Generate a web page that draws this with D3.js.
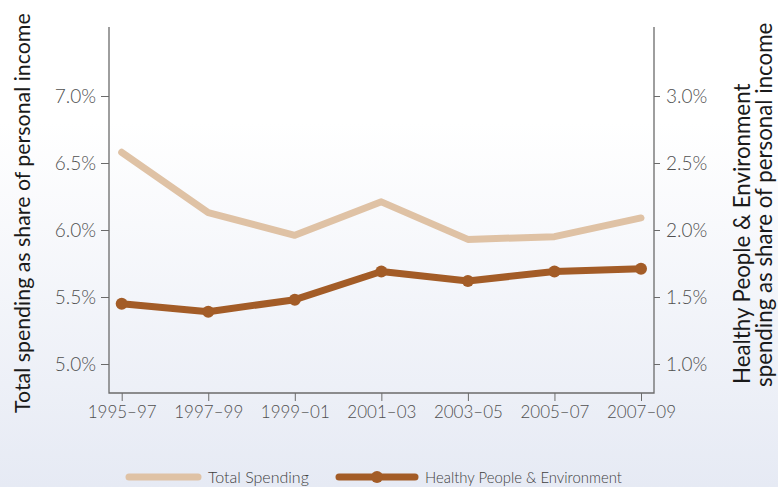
<!DOCTYPE html>
<html>
<head>
<meta charset="utf-8">
<script src="https://cdn.jsdelivr.net/npm/d3@7"></script>
<style>
  body { margin: 0; }
  text { font-family: Lato, "Open Sans", sans-serif; font-weight: 300; }
</style>
</head>
<body>
<div id="chart"></div>
<script>
// chart data
var periods = ["1995–97", "1997–99", "1999–01", "2001–03", "2003–05", "2005–07", "2007–09"];
var totalSpending = [6.58, 6.13, 5.96, 6.21, 5.93, 5.95, 6.09];
var healthyPeople = [1.45, 1.39, 1.48, 1.69, 1.62, 1.69, 1.71];
var leftTicks = [5.0, 5.5, 6.0, 6.5, 7.0];
var rightTicks = [1.0, 1.5, 2.0, 2.5, 3.0];
var seriesNames = ["Total Spending", "Healthy People & Environment"];

var svgWidth = 778;
var svgHeight = 487;

var plot = { left: 109, right: 654, top: 27, bottom: 393 };

var svg = d3.select("#chart")
  .append("svg")
  .attr("width", svgWidth)
  .attr("height", svgHeight);

// background gradient
var grad = svg.append("defs").append("linearGradient")
  .attr("id", "bg")
  .attr("x1", 0).attr("y1", 0).attr("x2", 0).attr("y2", 1);
grad.append("stop").attr("offset", "0%").attr("stop-color", "#ffffff");
grad.append("stop").attr("offset", "25%").attr("stop-color", "#ffffff");
grad.append("stop").attr("offset", "100%").attr("stop-color", "#e6eaf4");

svg.append("rect")
  .attr("width", svgWidth)
  .attr("height", svgHeight)
  .attr("fill", "url(#bg)");

// scales
var x = d3.scalePoint()
  .domain(periods)
  .range([121.7, 641])
  .padding(0);

var yLeft = d3.scaleLinear().domain([5.0, 7.0]).range([364, 96]);
var yRight = d3.scaleLinear().domain([1.0, 3.0]).range([364, 96]);

var fmt = d => d.toFixed(1) + "%";

// axes
var leftAxis = d3.axisLeft(yLeft).tickValues(leftTicks).tickFormat(fmt).tickSizeOuter(0).tickSize(8).tickPadding(5);
var rightAxis = d3.axisRight(yRight).tickValues(rightTicks).tickFormat(fmt).tickSizeOuter(0).tickSize(6).tickPadding(6);
var bottomAxis = d3.axisBottom(x).tickSizeOuter(0).tickSize(8).tickPadding(5);

function styleAxis(g, size) {
  g.select(".domain").remove();
  g.selectAll(".tick line").attr("stroke", "#6b6b6b").attr("stroke-width", 1);
  g.selectAll(".tick text")
    .attr("fill", "#505050")
    .style("font-size", size + "px")
    .style("font-family", "Lato, 'Open Sans', sans-serif")
    .style("font-weight", 300);
}

svg.append("g")
  .attr("transform", `translate(${plot.left},0)`)
  .call(leftAxis)
  .call(g => styleAxis(g, 19));

svg.append("g")
  .attr("transform", `translate(${plot.right},0)`)
  .call(rightAxis)
  .call(g => styleAxis(g, 19));

svg.append("g")
  .attr("transform", `translate(0,${plot.bottom})`)
  .call(bottomAxis)
  .call(g => styleAxis(g, 17));

// axis frame lines (left, bottom, right)
svg.append("path")
  .attr("d", `M${plot.left},${plot.top}V${plot.bottom}H${plot.right}V${plot.top}`)
  .attr("fill", "none")
  .attr("stroke", "#6b6b6b")
  .attr("stroke-width", 1.3);

// series lines
var lineLeft = d3.line()
  .x((d, i) => x(periods[i]))
  .y(d => yLeft(d));

var lineRight = d3.line()
  .x((d, i) => x(periods[i]))
  .y(d => yRight(d));

svg.append("path")
  .datum(totalSpending)
  .attr("d", lineLeft)
  .attr("fill", "none")
  .attr("stroke", "#dfc2a5")
  .attr("stroke-width", 7)
  .attr("stroke-linecap", "round")
  .attr("stroke-linejoin", "round");

svg.append("path")
  .datum(healthyPeople)
  .attr("d", lineRight)
  .attr("fill", "none")
  .attr("stroke", "#a35c27")
  .attr("stroke-width", 7)
  .attr("stroke-linecap", "round")
  .attr("stroke-linejoin", "round");

svg.selectAll(".dot")
  .data(healthyPeople)
  .enter()
  .append("circle")
  .attr("class", "dot")
  .attr("cx", (d, i) => x(periods[i]))
  .attr("cy", d => yRight(d))
  .attr("r", 6)
  .attr("fill", "#a35c27");

// axis titles, fitted to measured lengths
function fitSize(sel, target) {
  var len = sel.node().getComputedTextLength();
  var size = parseFloat(sel.style("font-size"));
  return size * target / len;
}

var leftTitle = svg.append("text")
  .attr("transform", "translate(30,413) rotate(-90)")
  .attr("fill", "#1a1a1a")
  .style("font-size", "20px")
  .style("font-weight", 400)
  .text("Total spending as share of personal income");
leftTitle.style("font-size", fitSize(leftTitle, 400) + "px");

var rightTitle1 = svg.append("text")
  .attr("transform", "translate(750,384) rotate(-90)")
  .attr("fill", "#1a1a1a")
  .style("font-size", "20px")
  .style("font-weight", 400)
  .text("Healthy People & Environment");

var rightTitle2 = svg.append("text")
  .attr("transform", "translate(772,387) rotate(-90)")
  .attr("fill", "#1a1a1a")
  .style("font-size", "20px")
  .style("font-weight", 400)
  .text("spending as share of personal income");

var rightSize = (fitSize(rightTitle1, 311) + fitSize(rightTitle2, 352)) / 2;
rightTitle1.style("font-size", rightSize + "px");
rightTitle2.style("font-size", rightSize + "px");

// legend
var legendY = 477;
var legend = svg.append("g");

legend.append("line")
  .attr("x1", 129).attr("x2", 198)
  .attr("y1", legendY).attr("y2", legendY)
  .attr("stroke", "#dfc2a5")
  .attr("stroke-width", 7)
  .attr("stroke-linecap", "round");

legend.append("text")
  .attr("x", 208).attr("y", legendY + 6)
  .attr("fill", "#404040")
  .style("font-size", "16px")
  .text(seriesNames[0]);

legend.append("line")
  .attr("x1", 339).attr("x2", 415)
  .attr("y1", legendY).attr("y2", legendY)
  .attr("stroke", "#a35c27")
  .attr("stroke-width", 7)
  .attr("stroke-linecap", "round");

legend.append("circle")
  .attr("cx", 377).attr("cy", legendY)
  .attr("r", 6)
  .attr("fill", "#a35c27");

var legText2 = legend.append("text")
  .attr("x", 425).attr("y", legendY + 6)
  .attr("fill", "#404040")
  .style("font-size", "16px")
  .text(seriesNames[1]);
legText2.style("font-size", fitSize(legText2, 197) + "px");
</script>
</body>
</html>
